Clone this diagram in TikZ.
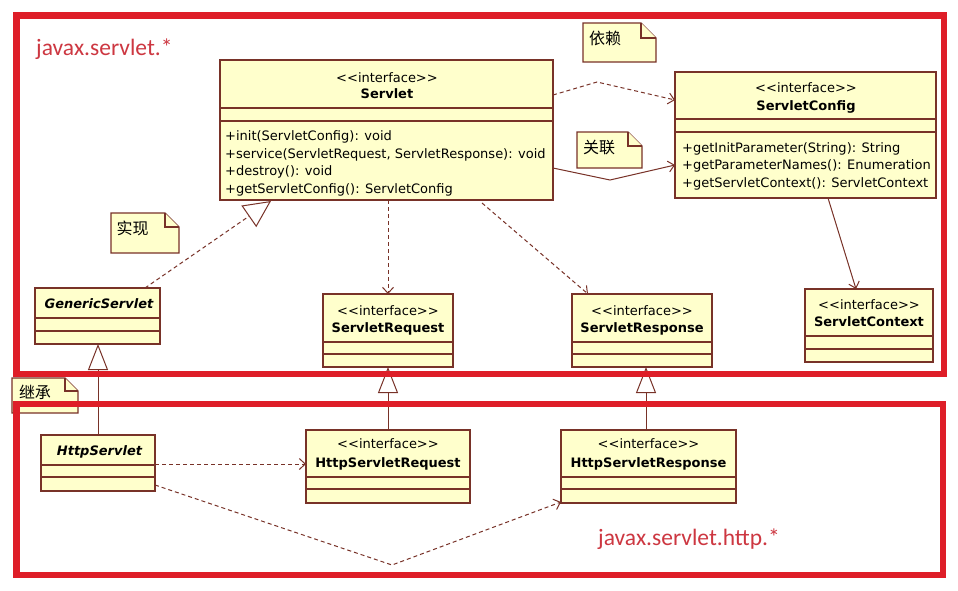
\documentclass[tikz,border=0pt]{standalone}
\usepackage{fontspec}
\setmainfont{DejaVu Sans}
\newfontfamily\cjk{Noto Sans CJK SC}
\newfontfamily\labfont{Carlito}
\usetikzlibrary{arrows.meta,calc}
\definecolor{boxfill}{RGB}{255,255,204}
\definecolor{boxline}{RGB}{120,50,40}
\definecolor{framered}{RGB}{222,30,40}
\definecolor{labred}{RGB}{205,55,65}
\newcommand\foldnote[2]{%
  \filldraw[noteline] (#1.north west) -- ($(#1.north east)+(-#2,0)$) -- ($(#1.north east)+(0,#2)$) -- (#1.south east) -- (#1.south west) -- cycle;
  \draw[noteline] ($(#1.north east)+(-#2,0)$) -- ($(#1.north east)+(-#2,#2)$) -- ($(#1.north east)+(0,#2)$);}
\newcommand\seps[3]{%
  \draw[sepline] ($(#1.north west)+(0,#2)$) -- ($(#1.north east)+(0,#2)$);
  \draw[sepline] ($(#1.north west)+(0,#3)$) -- ($(#1.north east)+(0,#3)$);}
\newcommand\stype{<{}<interface>{}>}
\begin{document}
\begin{tikzpicture}[x=1pt,y=-1pt,
  cls/.style={draw=boxline, fill=boxfill, line width=1.3pt, inner sep=0pt, outer sep=0pt, anchor=north west},
  sepline/.style={draw=boxline, line width=1.3pt},
  notebox/.style={inner sep=0pt, outer sep=0pt, anchor=north west},
  noteline/.style={draw=boxline, fill=boxfill, line width=1.2pt, line join=miter},
  notetext/.style={font=\cjk\fontsize{16}{18}\selectfont, inner sep=0pt, anchor=center},
  stereo/.style={font=\fontsize{13}{15}\selectfont, inner sep=0pt, anchor=base},
  cname/.style={font=\fontsize{13}{15}\selectfont\bfseries, inner sep=0pt, anchor=base},
  aname/.style={font=\fontsize{13}{15}\selectfont\bfseries\itshape, inner sep=0pt, anchor=base},
  meth/.style={font=\fontsize{13}{15}\selectfont, inner sep=0pt, anchor=base west},
  lab/.style={font=\labfont\fontsize{23.5}{26}\selectfont, text=labred, inner sep=0pt, anchor=base west},
  framebox/.style={draw=framered, line width=6.5pt},
  dep/.style={draw=boxline, line width=1pt, dash pattern=on 4pt off 3pt, -{Straight Barb[length=6pt,width=11pt]}},
  asc/.style={draw=boxline, line width=1pt, -{Straight Barb[length=6pt,width=11pt]}},
  gen/.style={draw=boxline, line width=1pt, -{Triangle[open,length=26pt,width=20pt]}},
  real/.style={draw=boxline, line width=1pt, dash pattern=on 4pt off 3pt, -{Triangle[open,length=27pt,width=26pt]}},
]
\useasboundingbox (0,0) rectangle (958,590);
\fill[white] (0,0) rectangle (958,590);

% notes
\node[notebox, minimum width=73pt, minimum height=39pt] (nDep) at (583,23) {};
\foldnote{nDep}{15}
\node[notetext] (tDep) at (605,38) {依赖};
\node[notebox, minimum width=65pt, minimum height=36pt] (nAsc) at (577,132) {};
\foldnote{nAsc}{14}
\node[notetext] (tAsc) at (599,148) {关联};
\node[notebox, minimum width=68pt, minimum height=40pt] (nReal) at (111,213) {};
\foldnote{nReal}{14}
\node[notetext] (tReal) at (132.5,228) {实现};
\node[notebox, minimum width=66pt, minimum height=35pt] (nGen) at (12,378) {};
\foldnote{nGen}{13}
\node[notetext] (tGen) at (35,392) {继承};

% classes
\node[cls, minimum width=333pt, minimum height=140pt] (servlet) at (220,60) {};
\seps{servlet}{48}{61}
\node[stereo] (s0) at (387,82.5) {\stype};
\node[cname] (s1) at (387,98) {Servlet};
\node[meth] (s2) at (225,140) {+init(ServletConfig): void};
\node[meth] (s3) at (225,158) {+service(ServletRequest, ServletResponse): void};
\node[meth] (s4) at (225,175) {+destroy(): void};
\node[meth] (s5) at (225,193) {+getServletConfig(): ServletConfig};

\node[cls, minimum width=261pt, minimum height=126pt] (config) at (675,72) {};
\seps{config}{47}{60}
\node[stereo] (c0) at (806,92) {\stype};
\node[cname] (c1) at (806,110) {ServletConfig};
\node[meth] (c2) at (682,152) {+getInitParameter(String): String};
\node[meth] (c3) at (682,169) {+getParameterNames(): Enumeration};
\node[meth] (c4) at (682,187) {+getServletContext(): ServletContext};

\node[cls, minimum width=125pt, minimum height=56pt] (generic) at (35,288) {};
\seps{generic}{30}{43}
\node[aname] (g1) at (99,308) {GenericServlet};

\node[cls, minimum width=130pt, minimum height=73pt] (request) at (323,294) {};
\seps{request}{48}{60}
\node[stereo] (r0) at (388,315) {\stype};
\node[cname] (r1) at (388,332) {ServletRequest};

\node[cls, minimum width=140pt, minimum height=73pt] (response) at (572,294) {};
\seps{response}{48}{60}
\node[stereo] (p0) at (642,315) {\stype};
\node[cname] (p1) at (642,332) {ServletResponse};

\node[cls, minimum width=128pt, minimum height=73pt] (context) at (805,289) {};
\seps{context}{47}{60}
\node[stereo] (x0) at (869,309) {\stype};
\node[cname] (x1) at (869,326) {ServletContext};

\node[cls, minimum width=114pt, minimum height=56pt] (http) at (41,435) {};
\seps{http}{30}{42}
\node[aname] (h1) at (99.5,455) {HttpServlet};

\node[cls, minimum width=164pt, minimum height=73pt] (hreq) at (306,430) {};
\seps{hreq}{47}{59}
\node[stereo] (q0) at (388,448) {\stype};
\node[cname] (q1) at (388,467) {HttpServletRequest};

\node[cls, minimum width=175pt, minimum height=73pt] (hresp) at (561,430) {};
\seps{hresp}{47}{59}
\node[stereo] (w0) at (648.5,448) {\stype};
\node[cname] (w1) at (648.5,467) {HttpServletResponse};

% connectors
\draw[dep] ($(servlet.north east)+(0,35)$) -- (597,82) -- ($(config.north west)+(0,28)$);
\draw[asc] ($(servlet.north east)+(0,108)$) -- (610,180) -- ($(config.north west)+(0,93)$);
\draw[real] ($(generic.north west)+(110,0)$) -- ($(servlet.south west)+(51,1)$);
\draw[dep] ($(servlet.south west)+(168,0)$) -- (request.north);
\draw[dep] ($(servlet.south west)+(262,3)$) -- ($(response.north west)+(16,0)$);
\draw[asc] ($(config.south west)+(153,0)$) -- ($(context.north west)+(51,0)$);
\draw[gen] ($(http.north west)+(57,0)$) -- ($(generic.south west)+(63,0)$);
\draw[gen] (hreq.north) -- (request.south);
\draw[gen] ($(hresp.north west)+(85,0)$) -- ($(response.south west)+(74,0)$);
\draw[dep] ($(http.north east)+(0,29)$) -- ($(hreq.north west)+(0,34)$);
\draw[dep] ($(http.north east)+(0,50)$) -- (392,565) -- ($(hresp.south west)+(0,-1)$);

% package frames
\draw[framebox] (16.5,15.5) rectangle (944,374);
\draw[framebox] (16.5,404) rectangle (943,575);
\node[lab] (pk1) at (36,55) {javax.servlet.*};
\node[lab] (pk2) at (598,545) {javax.servlet.http.*};
\end{tikzpicture}
\end{document}
